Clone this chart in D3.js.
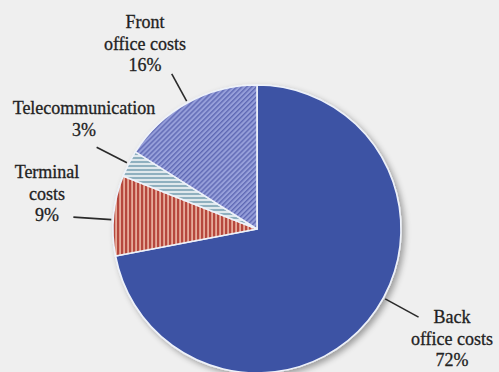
<!DOCTYPE html>
<html>
<head>
<meta charset="utf-8">
<script src="https://cdn.jsdelivr.net/npm/d3@7"></script>
<style>
  html, body { margin: 0; padding: 0; background: #efefef; }
  svg { display: block; }
  text { font-family: "Liberation Serif", "DejaVu Serif", serif; font-size: 18px; fill: #222; stroke: #222; stroke-width: 0.3px; }
</style>
</head>
<body>
<svg id="chart" width="499" height="372"></svg>
<script>
// Cost breakdown (percent of total), clockwise from 12 o'clock
const categories = ["Back office costs", "Terminal costs", "Telecommunication", "Front office costs"];
const shares = [72, 9, 3, 16];
const labelLines = [["Back", "office costs"], ["Terminal", "costs"], ["Telecommunication"], ["Front", "office costs"]];

// Label placement: text centre x, first baseline y, leader angle tweak (deg), leader outer radius
const labelLayout = [
  { x: 452, y: 323, tweak: -11, outer: 184 },
  { x: 47,  y: 178, tweak: -1.7, outer: 184 },
  { x: 84,  y: 114, tweak: 0, outer: 180 },
  { x: 145, y: 28,  tweak: 0, outer: 177 }
];

const fills = ["#3c52a4", "url(#pTerminal)", "url(#pTelecom)", "url(#pFront)"];

const svg = d3.select("#chart");
const cx = 257, cy = 229, r = 144;
const lineH = 21.5;

const defs = svg.append("defs");

// Soft drop shadow under the pie
const shadow = defs.append("filter").attr("id", "shadow")
  .attr("x", "-20%").attr("y", "-20%").attr("width", "140%").attr("height", "140%");
shadow.append("feGaussianBlur").attr("in", "SourceAlpha").attr("stdDeviation", 3).attr("result", "b");
shadow.append("feOffset").attr("in", "b").attr("dx", 3).attr("dy", 3).attr("result", "o");
shadow.append("feComponentTransfer").attr("in", "o").attr("result", "s")
  .append("feFuncA").attr("type", "linear").attr("slope", 0.35);
const merge = shadow.append("feMerge");
merge.append("feMergeNode").attr("in", "s");
merge.append("feMergeNode").attr("in", "SourceGraphic");

// Vertical red stripes
const pT = defs.append("pattern").attr("id", "pTerminal").attr("patternUnits", "userSpaceOnUse")
  .attr("width", 4).attr("height", 4);
pT.append("rect").attr("width", 4).attr("height", 4).attr("fill", "#e6ab9a");
pT.append("rect").attr("width", 2.2).attr("height", 4).attr("fill", "#b6473c");

// Horizontal blue-grey stripes
const pC = defs.append("pattern").attr("id", "pTelecom").attr("patternUnits", "userSpaceOnUse")
  .attr("width", 4).attr("height", 4);
pC.append("rect").attr("width", 4).attr("height", 4).attr("fill", "#dfe8ec");
pC.append("rect").attr("width", 4).attr("height", 2).attr("fill", "#8fb0bf");

// Fine diagonal hatching
const pF = defs.append("pattern").attr("id", "pFront").attr("patternUnits", "userSpaceOnUse")
  .attr("width", 3.5).attr("height", 3.5).attr("patternTransform", "rotate(45)");
pF.append("rect").attr("width", 3.5).attr("height", 3.5).attr("fill", "#969fda");
pF.append("rect").attr("width", 1.4).attr("height", 3.5).attr("fill", "#5f69b4");

const pie = d3.pie().sort(null).value(d => d).startAngle(0).endAngle(2 * Math.PI);
const arcs = pie(shares);
const arc = d3.arc().innerRadius(0).outerRadius(r);

const g = svg.append("g").attr("transform", `translate(${cx},${cy})`);

g.append("g").attr("filter", "url(#shadow)")
  .selectAll("path").data(arcs).join("path")
  .attr("d", arc)
  .attr("fill", (d, i) => fills[i])
  .attr("stroke", "#eef2fa")
  .attr("stroke-width", 1.6)
  .attr("stroke-linejoin", "round");

// Leader lines, radial from just outside the rim
const polar = (a, rad) => [Math.sin(a) * rad, -Math.cos(a) * rad];
g.append("g").selectAll("line").data(arcs).join("line")
  .each(function (d, i) {
    const a = (d.startAngle + d.endAngle) / 2 + labelLayout[i].tweak * Math.PI / 180;
    const p0 = polar(a, r + 2), p1 = polar(a, labelLayout[i].outer);
    d3.select(this).attr("x1", p0[0]).attr("y1", p0[1]).attr("x2", p1[0]).attr("y2", p1[1]);
  })
  .attr("stroke", "#2a2a2a")
  .attr("stroke-width", 1.6);

// Category labels with percentage
svg.append("g").selectAll("text").data(arcs).join("text")
  .attr("text-anchor", "middle")
  .each(function (d, i) {
    const t = d3.select(this);
    const lines = labelLines[i].concat([d.data + "%"]);
    lines.forEach((s, k) => {
      t.append("tspan").attr("x", labelLayout[i].x).attr("y", labelLayout[i].y + k * lineH).text(s);
    });
  });
</script>
</body>
</html>
